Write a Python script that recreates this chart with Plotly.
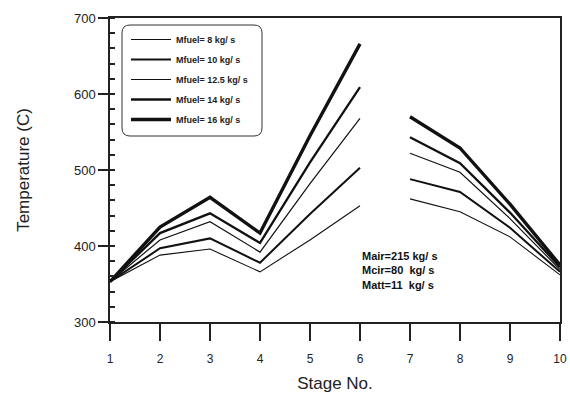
import plotly.graph_objects as go

stages = [1, 2, 3, 4, 5, 6, 7, 8, 9, 10]
labels = ["Mfuel= 8 kg/ s", "Mfuel= 10 kg/ s", "Mfuel= 12.5 kg/ s", "Mfuel= 14 kg/ s", "Mfuel= 16 kg/ s"]
temp_8 = [353, 388, 396, 366, 408, 453, 462, 445, 412, 362]
temp_10 = [353, 397, 410, 378, 442, 503, 488, 471, 424, 366]
temp_12_5 = [353, 408, 432, 392, 482, 568, 522, 497, 436, 369]
temp_14 = [353, 417, 443, 404, 510, 609, 543, 509, 444, 372]
temp_16 = [353, 425, 464, 417, 545, 666, 570, 529, 455, 375]
series = [temp_8, temp_10, temp_12_5, temp_14, temp_16]
widths = [1.1, 2.0, 1.2, 2.3, 3.4]
gap_after = 6  # lines are broken between stage 6 and stage 7

fig = go.Figure()
for name, vals, w in zip(labels, series, widths):
    fig.add_trace(go.Scatter(x=stages[:gap_after], y=vals[:gap_after], mode="lines",
                             name=name, legendgroup=name,
                             line=dict(color="#111111", width=w)))
    fig.add_trace(go.Scatter(x=stages[gap_after:], y=vals[gap_after:], mode="lines",
                             name=name, legendgroup=name, showlegend=False,
                             line=dict(color="#111111", width=w)))

W, H = 570, 396
ml, mr, mt, mb = 110, 10, 18, 74
pw, ph = W - ml - mr, H - mt - mb
def px(x): return (x - ml) / pw
def py(y): return 1 - (y - mt) / ph

# rounded legend frame
x0, x1, y0, y1, r = 122, 262, 25, 136, 8
path = (f"M {px(x0+r)} {py(y0)} L {px(x1-r)} {py(y0)} "
        f"Q {px(x1)} {py(y0)} {px(x1)} {py(y0+r)} L {px(x1)} {py(y1-r)} "
        f"Q {px(x1)} {py(y1)} {px(x1-r)} {py(y1)} L {px(x0+r)} {py(y1)} "
        f"Q {px(x0)} {py(y1)} {px(x0)} {py(y1-r)} L {px(x0)} {py(y0+r)} "
        f"Q {px(x0)} {py(y0)} {px(x0+r)} {py(y0)} Z")
fig.add_shape(type="path", xref="paper", yref="paper", path=path,
              line=dict(color="#333333", width=1))

fig.add_annotation(xref="paper", yref="paper", x=px(360), y=py(248), xanchor="left", yanchor="top",
                   align="left", showarrow=False,
                   text="<b>Mair=215 kg/ s<br>Mcir=80  kg/ s<br>Matt=11  kg/ s</b>",
                   font=dict(family="Liberation Sans, Arial", size=11, color="#111111"))

fig.update_layout(
    width=W, height=H,
    margin=dict(l=ml, r=mr, t=mt, b=mb),
    paper_bgcolor="white", plot_bgcolor="white",
    font=dict(family="Liberation Sans, Arial", color="#222222"),
    legend=dict(x=px(126), y=py(25), xanchor="left", yanchor="top",
                bgcolor="rgba(0,0,0,0)", borderwidth=0,
                font=dict(size=9, family="Liberation Sans, Arial", weight="bold"),
                tracegroupgap=1, itemwidth=40),
    showlegend=True,
)
fig.update_xaxes(range=[1, 10], tickvals=stages, ticks="outside", ticklen=17, tickwidth=1.5,
                 tickcolor="#222", showline=True, linecolor="#222", linewidth=1.5, mirror=True,
                 showgrid=False, zeroline=False, ticklabelstandoff=8, automargin=False,
                 tickfont=dict(size=12),
                 title=dict(text="Stage No.", font=dict(size=17), standoff=12))
fig.update_yaxes(range=[300, 700], dtick=100, ticks="outside", ticklen=10, tickwidth=1.5,
                 tickcolor="#222", showline=True, linecolor="#222", linewidth=1.5, mirror=True,
                 showgrid=False, zeroline=False, automargin=False,
                 minor=dict(ticks="inside", dtick=20, ticklen=5, tickcolor="#222", showgrid=False),
                 tickfont=dict(size=13),
                 title=dict(text="Temperature (C)", font=dict(size=17), standoff=40))

fig.write_html("out.html")
